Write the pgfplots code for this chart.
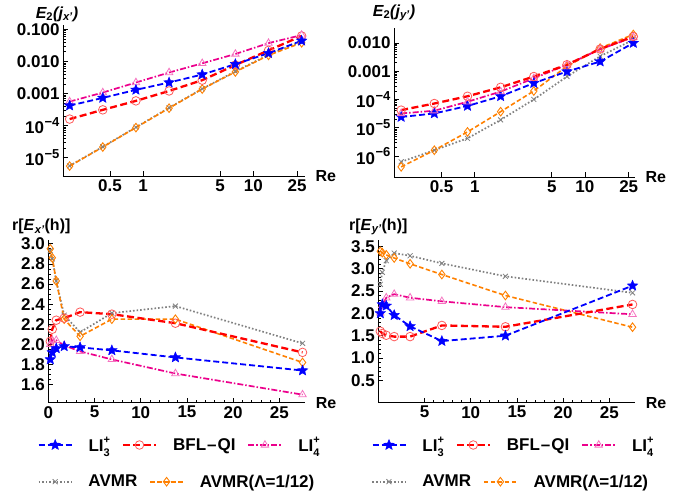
\documentclass[border=0pt]{standalone}
\usepackage{fontspec}
\setmainfont{Liberation Sans}
\usepackage{pgfplots}
\usepackage{pgfplotstable}
\pgfplotsset{compat=1.18}

% filled five-pointed star
\pgfdeclareplotmark{fstar}{%
  \pgfpathmoveto{\pgfpointpolar{90}{\pgfplotmarksize}}%
  \pgfpathlineto{\pgfpointpolar{126}{0.45\pgfplotmarksize}}%
  \pgfpathlineto{\pgfpointpolar{162}{\pgfplotmarksize}}%
  \pgfpathlineto{\pgfpointpolar{198}{0.45\pgfplotmarksize}}%
  \pgfpathlineto{\pgfpointpolar{234}{\pgfplotmarksize}}%
  \pgfpathlineto{\pgfpointpolar{270}{0.45\pgfplotmarksize}}%
  \pgfpathlineto{\pgfpointpolar{306}{\pgfplotmarksize}}%
  \pgfpathlineto{\pgfpointpolar{342}{0.45\pgfplotmarksize}}%
  \pgfpathlineto{\pgfpointpolar{18}{\pgfplotmarksize}}%
  \pgfpathlineto{\pgfpointpolar{54}{0.45\pgfplotmarksize}}%
  \pgfpathclose\pgfusepathqfillstroke}

\tikzset{
  pLIthree/.style={color=blue, line width=1.8pt, dash pattern=on 6pt off 3pt,
    mark=fstar, mark size=5.5pt, mark options={solid, fill=blue, line width=0.4pt}},
  pBFL/.style={color=red, line width=2.3pt, dash pattern=on 7pt off 3.5pt,
    mark=o, mark size=4.3pt, mark options={solid, draw=red!65!white, fill=none, line width=0.8pt}},
  pLIfour/.style={color=magenta, line width=1.7pt, dash pattern=on 6pt off 2pt on 1.5pt off 2pt,
    mark=triangle, mark size=4.3pt, mark options={solid, draw=magenta!55!white, fill=none, line width=0.8pt}},
  pAVMR/.style={color=gray, line width=1.7pt, dash pattern=on 1.6pt off 2pt,
    mark=x, mark size=3.5pt, mark options={solid, line width=0.8pt}},
  pAVMRL/.style={color=orange, line width=1.6pt, dash pattern=on 4.5pt off 2.5pt,
    mark=diamond, mark size=4.3pt, mark options={solid, fill=none, line width=0.9pt}},
}

\pgfplotsset{
  mma/.style={scale only axis, axis lines=left, axis line style={-, line width=0.6pt},
    tick style={black, line width=0.6pt}, major tick length=5pt, minor tick length=3pt,
    tick align=inside, clip=false, anchor=south west,
    tick label style={font=\bfseries\fontsize{17}{20}\selectfont}},
  leg/.style={hide axis, scale only axis, width=10pt, height=10pt,
    xmin=0, xmax=1, ymin=0, ymax=1, anchor=west,
    legend style={at={(0,0.5)}, anchor=west, draw=none, fill=none, inner sep=0pt,
      font=\bfseries\fontsize{17}{20}\selectfont, nodes={inner sep=0pt},
      /tikz/every even column/.append style={column sep=12pt},
      /tikz/every odd column/.append style={column sep=16pt}},
    legend image code/.code={\draw[mark repeat=2, mark phase=2]
      plot coordinates {(0pt,0pt) (16.5pt,0pt) (33pt,0pt)};}},
}

\newcommand\tenp[1]{10\raisebox{0.45em}{\fontsize{13}{13}\selectfont\kern0.5pt −#1}}
\newcommand\lab{\bfseries\fontsize{16}{18}\selectfont}
\newcommand\LIt{LI\makebox[0pt][l]{\raisebox{0.45em}{\fontsize{11}{11}\selectfont +}}\raisebox{-0.3em}{\fontsize{11}{11}\selectfont 3}}
\newcommand\LIf{LI\makebox[0pt][l]{\raisebox{0.45em}{\fontsize{11}{11}\selectfont +}}\raisebox{-0.3em}{\fontsize{11}{11}\selectfont 4}}

% E2(j_x')
\pgfplotstableread{
x       li3     bfl     li4     avmr    avmrl
0.2148  4.2e-4  1.6e-4  5.6e-4  5.6e-6  5.5e-6
0.4297  7.3e-4  3.1e-4  1.07e-3 2.2e-5  2.15e-5
0.8594  1.3e-3  5.9e-4  2.2e-3  8.9e-5  8.7e-5
1.7188  2.2e-3  1.2e-3  4.5e-3  3.6e-4  3.5e-4
3.4375  3.9e-3  2.6e-3  8.7e-3  1.4e-3  1.38e-3
6.875   8.2e-3  7.7e-3  0.017   4.9e-3  4.7e-3
13.75   0.018   0.022   0.037   0.016   0.0155
27.5    0.044   0.062   0.066   0.042   0.038
}\tabTL
% E2(j_y')
\pgfplotstableread{
x       li3     bfl     li4     avmr    avmrl
0.2148  2.4e-5  4.2e-5  3.2e-5  6.2e-7  4.1e-7
0.4297  3.2e-5  7.2e-5  4.0e-5  1.6e-6  1.6e-6
0.8594  5.9e-5  1.3e-4  8.3e-5  4.2e-6  7.1e-6
1.7188  1.3e-4  2.7e-4  1.9e-4  1.9e-5  3.7e-5
3.4375  3.8e-4  6.5e-4  5.6e-4  1.0e-4  2.0e-4
6.875   9.8e-4  1.7e-3  1.7e-3  6.5e-4  1.5e-3
13.75   2.2e-3  6.1e-3  6.0e-3  3.4e-3  6.6e-3
27.5    0.010   0.017   0.016   0.013   0.020
}\tabTR
% r[E_x'(h)]
\pgfplotstableread{
x       li3   bfl   li4   avmr  avmrl
0.2148  1.85  2.03  2.00  2.93  2.95
0.4297  1.92  2.15  2.04  2.85  2.86
0.8594  1.96  2.24  2.04  2.63  2.63
1.7188  1.98  2.26  1.99  2.29  2.25
3.4375  1.97  2.32  1.93  2.12  2.08
6.875   1.94  2.30  1.85  2.31  2.25
13.75   1.87  2.21  1.71  2.38  2.25
27.5    1.74  1.92  1.50  2.01  1.82
}\tabBL
% r[E_y'(h)]
\pgfplotstableread{
x       li3   bfl   li4   avmr  avmrl
0.2148  2.00  1.60  2.01  2.65  3.39
0.4297  2.20  1.55  2.18  2.92  3.36
0.8594  2.17  1.51  2.35  3.18  3.31
1.7188  1.96  1.48  2.43  3.35  3.24
3.4375  1.71  1.48  2.35  3.29  3.11
6.875   1.38  1.73  2.27  3.12  2.87
13.75   1.50  1.70  2.14  2.83  2.40
27.5    2.62  2.20  1.98  2.46  1.69
}\tabBR

\begin{document}
\begin{tikzpicture}
\useasboundingbox (0,0) rectangle (690pt,495pt);

% ---- top left
\begin{axis}[mma, at={(63pt,319pt)}, width=242pt, height=151pt,
  xmode=log, ymode=log, xmin=0.187, xmax=29.5, ymin=2.7e-6, ymax=0.136,
  xtick={0.5,1,5,10,25}, xticklabels={0.5,1,5,10,25}, xminorticks=false,
  ytick={1e-5,1e-4,1e-3,1e-2,1e-1},
  yticklabels={\tenp{5},\tenp{4},0.001,0.010,0.100}]
\addplot[pAVMR] table[x=x,y=avmr]{\tabTL};
\addplot[pAVMRL] table[x=x,y=avmrl]{\tabTL};
\addplot[pBFL] table[x=x,y=bfl]{\tabTL};
\addplot[pLIfour] table[x=x,y=li4]{\tabTL};
\addplot[pLIthree] table[x=x,y=li3]{\tabTL};
\node[font=\lab] at (rel axis cs:0,1) [xshift=-6pt, yshift=11pt] {\itshape E\textsubscript{\upshape 2}(j\textsubscript{x'})};
\node[font=\lab, anchor=west] at (rel axis cs:1,0) [xshift=7pt] {Re};
\end{axis}

% ---- top right
\begin{axis}[mma, at={(394pt,318pt)}, width=241pt, height=149pt,
  xmode=log, ymode=log, xmin=0.185, xmax=28.5, ymin=1.8e-7, ymax=0.034,
  xtick={0.5,1,5,10,25}, xticklabels={0.5,1,5,10,25}, xminorticks=false,
  ytick={1e-6,1e-5,1e-4,1e-3,1e-2},
  yticklabels={\tenp{6},\tenp{5},\tenp{4},0.001,0.010}]
\addplot[pAVMR] table[x=x,y=avmr]{\tabTR};
\addplot[pAVMRL] table[x=x,y=avmrl]{\tabTR};
\addplot[pLIthree] table[x=x,y=li3]{\tabTR};
\addplot[pLIfour] table[x=x,y=li4]{\tabTR};
\addplot[pBFL] table[x=x,y=bfl]{\tabTR};
\node[font=\lab] at (rel axis cs:0,1) [yshift=15pt] {\itshape E\textsubscript{\upshape 2}(j\textsubscript{y'})};
\node[font=\lab, anchor=west] at (rel axis cs:1,0) [xshift=7pt] {Re};
\end{axis}

% ---- bottom left
\begin{axis}[mma, at={(48.3pt,92.3pt)}, width=257pt, height=163pt,
  xmin=0, xmax=27.8, ymin=1.42, ymax=3.04,
  xtick={0,5,10,15,20,25}, xticklabels={0,5,10,15,20,25}, minor x tick num=4,
  ytick={1.6,1.8,2.0,2.2,2.4,2.6,2.8,3.0},
  yticklabels={1.6,1.8,2.0,2.2,2.4,2.6,2.8,3.0}, minor y tick num=3]
\addplot[pAVMR] table[x=x,y=avmr]{\tabBL};
\addplot[pAVMRL] table[x=x,y=avmrl]{\tabBL};
\addplot[pBFL] table[x=x,y=bfl]{\tabBL};
\addplot[pLIfour] table[x=x,y=li4]{\tabBL};
\addplot[pLIthree] table[x=x,y=li3]{\tabBL};
\node[font=\lab] at (rel axis cs:0,1) [xshift=-7pt, yshift=13pt] {r[\textit{E}\textsubscript{\itshape x'}(h)]};
\node[font=\lab, anchor=west] at (rel axis cs:1,0) [xshift=7pt] {Re};
\end{axis}

% ---- bottom right
\begin{axis}[mma, at={(378.3pt,92.3pt)}, width=257pt, height=163pt,
  xmin=0, xmax=27.8, ymin=0, ymax=3.65,
  xtick={5,10,15,20,25}, xticklabels={5,10,15,20,25}, minor x tick num=4,
  ytick={0.5,1.0,1.5,2.0,2.5,3.0,3.5},
  yticklabels={0.5,1.0,1.5,2.0,2.5,3.0,3.5}, minor y tick num=4]
\addplot[pAVMR] table[x=x,y=avmr]{\tabBR};
\addplot[pAVMRL] table[x=x,y=avmrl]{\tabBR};
\addplot[pLIfour] table[x=x,y=li4]{\tabBR};
\addplot[pBFL] table[x=x,y=bfl]{\tabBR};
\addplot[pLIthree] table[x=x,y=li3]{\tabBR};
\node[font=\lab] at (rel axis cs:0,1) [yshift=13pt] {r[\textit{E}\textsubscript{\itshape y'}(h)]};
\node[font=\lab, anchor=west] at (rel axis cs:1,0) [xshift=7pt] {Re};
\end{axis}

% ---- legends
\begin{axis}[leg, at={(37.6pt,50pt)}, legend columns=3]
\addlegendimage{pLIthree}\addlegendentry{\LIt}
\addlegendimage{pBFL}\addlegendentry{BFL\kern1pt–\kern1pt QI}
\addlegendimage{pLIfour}\addlegendentry{\LIf}
\end{axis}
\begin{axis}[leg, at={(37.6pt,13.3pt)}, legend columns=2]
\addlegendimage{pAVMR}\addlegendentry{AVMR}
\addlegendimage{pAVMRL}\addlegendentry{AVMR(Λ=1/12)}
\end{axis}
\begin{axis}[leg, at={(371.4pt,50pt)}, legend columns=3]
\addlegendimage{pLIthree}\addlegendentry{\LIt}
\addlegendimage{pBFL}\addlegendentry{BFL\kern1pt–\kern1pt QI}
\addlegendimage{pLIfour}\addlegendentry{\LIf}
\end{axis}
\begin{axis}[leg, at={(371.4pt,13.3pt)}, legend columns=2]
\addlegendimage{pAVMR}\addlegendentry{AVMR}
\addlegendimage{pAVMRL}\addlegendentry{AVMR(Λ=1/12)}
\end{axis}
\end{tikzpicture}
\end{document}
